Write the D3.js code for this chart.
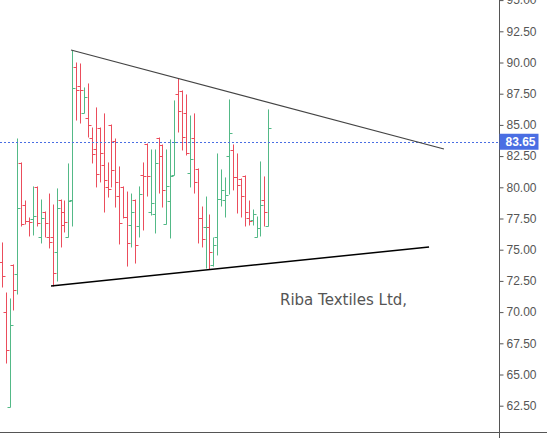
<!DOCTYPE html>
<html>
<head>
<meta charset="utf-8">
<script src="https://cdn.jsdelivr.net/npm/d3@7"></script>
<style>
  html, body { margin: 0; padding: 0; background: #ffffff; }
  svg { display: block; }
</style>
</head>
<body>
<svg id="chart" width="547" height="438"></svg>
<script>
// ---- data ----
const opens  = [74.02,70.01,62.40,73.78,73.05,81.95,78.58,77.30,77.46,80.03,76.02,78.02,76.02,76.02,74.82,78.98,78.02,76.02,78.98,89.64,
                88.12,85.96,85.55,83.95,83.03,84.75,81.79,80.03,84.99,83.71,79.30,80.03,77.62,76.98,78.98,76.90,80.99,83.47,78.02,77.86,
                83.95,83.39,77.06,78.90,80.99,87.48,87.72,85.96,81.15,83.95,81.47,77.54,76.82,76.82,73.77,76.02,79.06,78.98,82.51,82.99,
                80.83,80.67,80.91,77.54,77.38,76.02,76.74,78.98,76.90];
const highs  = [75.54,71.53,71.05,73.78,83.87,81.95,78.90,77.54,80.03,80.03,78.98,78.02,79.46,78.58,79.87,78.98,78.90,81.87,90.92,89.96,
                89.88,87.96,88.28,84.75,86.36,84.75,85.88,81.95,84.99,83.87,81.63,80.03,79.62,79.46,78.98,80.03,81.95,83.47,82.99,82.99,
                83.95,83.39,82.99,83.79,86.92,88.68,87.72,87.40,85.71,85.88,81.47,78.42,79.22,77.78,75.94,82.67,81.39,80.75,87.00,83.39,
                82.67,80.67,80.91,78.90,78.18,77.62,82.03,80.83,86.20];
const lows   = [72.01,65.92,62.40,70.17,71.45,76.90,77.06,76.10,76.18,76.90,75.54,76.02,75.14,72.09,72.49,75.22,76.42,76.02,76.90,85.39,
                85.15,85.96,84.03,81.95,80.03,80.43,78.02,79.22,80.03,78.42,75.46,77.54,73.69,75.22,73.93,76.02,76.58,79.30,77.78,76.34,
                79.54,78.42,77.06,75.94,80.99,84.43,82.99,82.59,80.03,79.54,75.54,75.22,73.53,73.45,73.69,74.58,78.50,77.62,79.46,79.79,
                77.94,77.62,76.90,76.98,76.98,76.02,76.10,76.90,76.90];
const closes = [72.89,66.96,68.97,71.77,78.34,77.06,77.30,77.22,77.70,77.14,77.54,77.14,75.62,73.13,78.34,76.98,77.22,78.90,87.96,87.80,
                87.80,87.24,84.99,82.67,81.07,82.75,80.59,79.87,81.39,80.43,77.14,77.62,75.54,78.02,75.38,79.46,80.91,80.91,78.74,81.95,
                82.51,79.79,80.11,80.91,83.63,86.12,84.03,82.75,82.27,80.43,77.54,75.86,76.82,74.82,75.38,79.06,79.78,79.38,84.35,80.83,
                80.19,79.30,78.02,77.30,77.86,76.74,78.58,78.02,84.75];
const priceTicks = [62.5, 65, 67.5, 70, 72.5, 75, 77.5, 80, 82.5, 85, 87.5, 90, 92.5, 95];
const lastPrice = 83.65;
// trend lines as [barIndex, price]
const upperTrend = [[17.68, 91.00], [112.8, 83.07]];
const lowerTrend = [[12.58, 72.09], [109.0, 75.22]];
const title = "Riba Textiles Ltd,";

// ---- drawing ----
const W = 547, H = 438;
const axisX = 499.5, bottomY = 432.5;
const upColor = "#53b987", downColor = "#eb4d5c", blue = "#4a6ee3";

const svg = d3.select("#chart");
const x = d3.scaleLinear().domain([0, opens.length - 1]).range([1.7, 268.3]);
const y = d3.scaleLinear().domain([62.5, 95]).range([405.7, 0.1]);

const bars = opens.map((o, i) => ({ i, o, h: highs[i], l: lows[i], c: closes[i] }));

const plot = svg.append("g");
const bx = d => Math.round(x(d.i)) + 0.5;
const g = plot.selectAll("g.bar").data(bars).enter().append("g")
  .attr("stroke", d => d.c >= d.o ? upColor : downColor)
  .attr("stroke-width", 1);
g.append("line").attr("x1", bx).attr("x2", bx)
  .attr("y1", d => y(d.h) - 0.5).attr("y2", d => y(d.l) + 0.5);
g.append("line").attr("x1", d => bx(d) - 3).attr("x2", bx)
  .attr("y1", d => Math.round(y(d.o)) + 0.5).attr("y2", d => Math.round(y(d.o)) + 0.5);
g.append("line").attr("x1", bx).attr("x2", d => bx(d) + 3)
  .attr("y1", d => Math.round(y(d.c)) + 0.5).attr("y2", d => Math.round(y(d.c)) + 0.5);

// last price dashed line
svg.append("line").attr("x1", 0).attr("x2", axisX)
  .attr("y1", Math.round(y(lastPrice)) + 0.5).attr("y2", Math.round(y(lastPrice)) + 0.5)
  .attr("stroke", blue).attr("stroke-dasharray", "2,2").attr("stroke-width", 1);

// trend lines
const line = d3.line().x(d => x(d[0])).y(d => y(d[1]));
svg.append("path").attr("d", line(upperTrend)).attr("fill", "none")
  .attr("stroke", "#444").attr("stroke-width", 1.2);
svg.append("path").attr("d", line(lowerTrend)).attr("fill", "none")
  .attr("stroke", "#000").attr("stroke-width", 1.5);

// title text
svg.append("text").attr("x", 280).attr("y", 305)
  .attr("font-family", "DejaVu Sans").attr("font-size", 15)
  .attr("fill", "#555").text(title);

// price axis
const axis = d3.axisRight(y).tickValues(priceTicks)
  .tickFormat(d3.format(".2f")).tickSize(4).tickPadding(3);
const ag = svg.append("g").attr("transform", `translate(${axisX},0)`).call(axis);
ag.select(".domain").remove();
ag.selectAll(".tick line").attr("stroke", "#555");
ag.selectAll(".tick text").attr("fill", "#555")
  .attr("font-family", "Liberation Sans, Arial, sans-serif").attr("font-size", 12);

svg.append("line").attr("x1", axisX).attr("x2", axisX).attr("y1", 0).attr("y2", H)
  .attr("stroke", "#555").attr("stroke-width", 1);
svg.append("line").attr("x1", 0).attr("x2", W).attr("y1", bottomY).attr("y2", bottomY)
  .attr("stroke", "#555").attr("stroke-width", 1);

// last price label
const ly = y(lastPrice);
svg.append("rect").attr("x", axisX).attr("y", ly - 8).attr("width", 39).attr("height", 16)
  .attr("fill", blue);
svg.append("text").attr("x", axisX + 6).attr("y", ly).attr("dy", "0.35em")
  .attr("font-family", "Liberation Sans, Arial, sans-serif").attr("font-size", 12)
  .attr("font-weight", "bold").attr("fill", "#fff").text(d3.format(".2f")(lastPrice));
</script>
</body>
</html>
